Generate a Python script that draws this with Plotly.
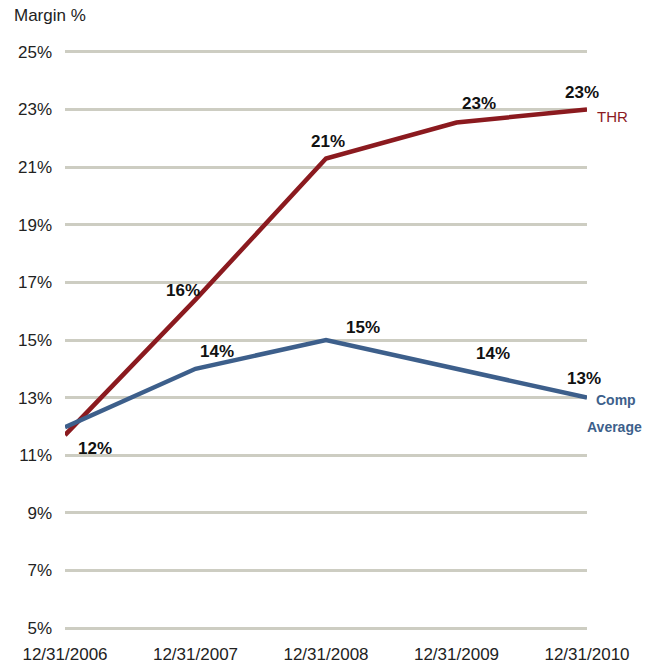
import plotly.graph_objects as go

dates = ["12/31/2006", "12/31/2007", "12/31/2008", "12/31/2009", "12/31/2010"]
thr = [11.7, 16.4, 21.3, 22.55, 23.0]
comp = [11.97, 14.0, 15.0, 14.0, 13.0]
y_ticks = [5, 7, 9, 11, 13, 15, 17, 19, 21, 23, 25]

# label offsets (pixels) per point; None = no label
thr_off = [None, (-13, 9), (2, 17), (22, 19), (-5, 17)]
comp_off = [(30, -21), (21, 17), (37, 13), (36, 15), (-3, 19)]

THR_COLOR = "#8b1a1f"
COMP_COLOR = "#3d5f8b"
FONT = "Liberation Sans, Arial, sans-serif"

fig = go.Figure()
fig.add_trace(go.Scatter(x=dates, y=thr, mode="lines", line=dict(color=THR_COLOR, width=4.5),
                         name="THR", hoverinfo="skip"))
fig.add_trace(go.Scatter(x=dates, y=comp, mode="lines", line=dict(color=COMP_COLOR, width=4.5),
                         name="Comp Average", hoverinfo="skip"))

annotations = []
for series, offs in ((thr, thr_off), (comp, comp_off)):
    for d, v, o in zip(dates, series, offs):
        if o is None:
            continue
        annotations.append(dict(x=d, y=v, xref="x", yref="y", text=f"{round(v)}%",
                                showarrow=False, xshift=o[0], yshift=o[1],
                                font=dict(family=FONT, size=17, color="#111111", weight="bold")))

annotations.append(dict(x=dates[-1], y=thr[-1], xref="x", yref="y", text="THR", showarrow=False,
                        xanchor="left", xshift=8, yshift=-7,
                        font=dict(family=FONT, size=15, color=THR_COLOR)))
annotations.append(dict(x=dates[-1], y=comp[-1], xref="x", yref="y", text="Comp", showarrow=False,
                        xanchor="center", xshift=29, yshift=-2,
                        font=dict(family=FONT, size=14, color=COMP_COLOR, weight="bold")))
annotations.append(dict(x=dates[-1], y=comp[-1], xref="x", yref="y", text="Average", showarrow=False,
                        xanchor="center", xshift=27, yshift=-29,
                        font=dict(family=FONT, size=14, color=COMP_COLOR, weight="bold")))
annotations.append(dict(x=dates[0], y=25, xref="x", yref="y", text="Margin %", showarrow=False,
                        xanchor="left", yanchor="middle", xshift=-53, yshift=36,
                        font=dict(family=FONT, size=17, color="#222222")))

fig.update_layout(
    width=654, height=668,
    margin=dict(l=65, r=67, t=49, b=37),
    paper_bgcolor="white", plot_bgcolor="white",
    showlegend=False,
    font=dict(family=FONT, size=17, color="#222222"),
    annotations=annotations,
    xaxis=dict(type="category", range=[0, 4], showgrid=False, zeroline=False, showline=False,
               automargin=False,
               tickfont=dict(size=17, color="#222222"), ticks="", ticklabelstandoff=11),
    yaxis=dict(range=[4.9, 25.1], tickvals=y_ticks, ticktext=[f"{v}%" for v in y_ticks],
               showgrid=True, gridcolor="#cdcdc2", gridwidth=3, zeroline=False, showline=False,
               automargin=False,
               tickfont=dict(size=17, color="#222222"), ticks="", ticklabelstandoff=12),
)

fig.write_html("out.html")
